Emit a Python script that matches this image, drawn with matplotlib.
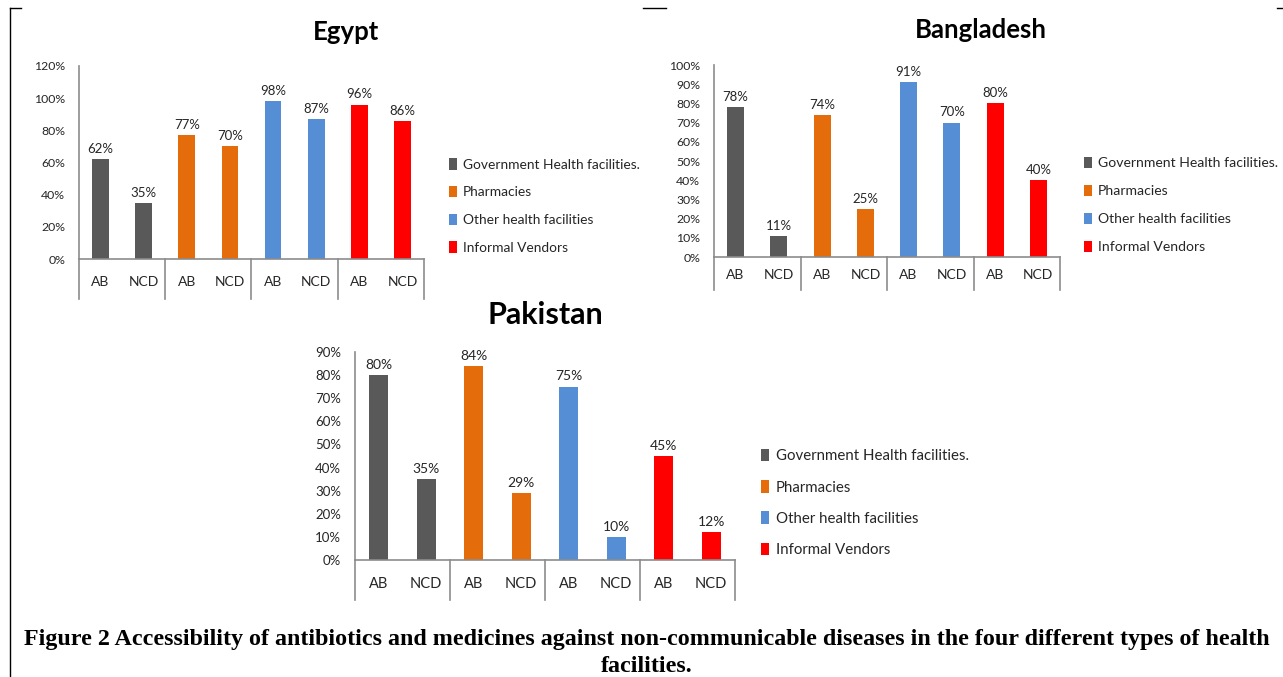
import matplotlib
matplotlib.use("Agg")
import matplotlib.pyplot as plt
from matplotlib.patches import Patch
from matplotlib.lines import Line2D
import matplotlib.transforms as mtransforms

# ---- data ----
categories = ["AB", "NCD", "AB", "NCD", "AB", "NCD", "AB", "NCD"]
facility_types = ["Government Health facilities.", "Pharmacies",
                  "Other health facilities", "Informal Vendors"]
egypt = [62, 35, 77, 70, 98, 87, 96, 86]
bangladesh = [78, 11, 74, 25, 91, 70, 80, 40]
pakistan = [80, 35, 84, 29, 75, 10, 45, 12]
egypt_ticks = [0, 20, 40, 60, 80, 100, 120]
bangladesh_ticks = [0, 10, 20, 30, 40, 50, 60, 70, 80, 90, 100]
pakistan_ticks = [0, 10, 20, 30, 40, 50, 60, 70, 80, 90]
caption1 = ("Figure 2 Accessibility of antibiotics and medicines against "
            "non-communicable diseases in the four different types of health")
caption2 = "facilities."

colors = ["#595959", "#E46C0A", "#558ED5", "#FF0000"]
bar_colors = [colors[i // 2] for i in range(8)]
axis_grey = "#8C8C8C"
FONT = ["Lato", "DejaVu Sans"]

W, H = 1283, 677
fig = plt.figure(figsize=(W / 100, H / 100), dpi=100)


def px_axes(l, r, t, b):
    return fig.add_axes([l / W, 1 - b / H, (r - l) / W, (b - t) / H])


def draw_panel(ax, values, ticks, title, title_xy, title_size, legend_xy,
               box_px, bar_w, tick_fs, lab_fs, leg_fs, leg_sp):
    x = list(range(len(values)))
    vals = [v / 100 for v in values]
    ax.bar(x, vals, width=bar_w, color=bar_colors, zorder=2)
    ax.set_xlim(-0.5, len(values) - 0.5)
    ax.set_ylim(0, ticks[-1] / 100)
    ax.set_yticks([t / 100 for t in ticks])
    ax.set_yticklabels([f"{t}%" for t in ticks], fontsize=tick_fs,
                       family=FONT, color="#262626")
    ax.set_xticks(x)
    ax.set_xticklabels(categories, fontsize=lab_fs, family=FONT, color="#262626")
    ax.tick_params(axis="both", length=0)
    ax.tick_params(axis="y", pad=10)
    ax.tick_params(axis="x", pad=box_px / 2 - 8)
    for s in ["top", "right"]:
        ax.spines[s].set_visible(False)
    for s in ["left", "bottom"]:
        ax.spines[s].set_color(axis_grey)
        ax.spines[s].set_linewidth(1.2)
    # category box separators
    h_px = ax.get_position().height * H
    trans = mtransforms.blended_transform_factory(ax.transData, ax.transAxes)
    for xs in [-0.5, 1.5, 3.5, 5.5, 7.5]:
        ax.add_line(Line2D([xs, xs], [0, -box_px / h_px], transform=trans,
                           color=axis_grey, lw=1.2, clip_on=False))
    for xi, v, raw in zip(x, vals, values):
        ax.annotate(f"{raw}%", (xi, v), xytext=(0, 3), textcoords="offset points",
                    ha="center", va="bottom", fontsize=lab_fs - 0.5,
                    family=FONT, color="#262626")
    fig.text(title_xy[0] / W, 1 - title_xy[1] / H, title, ha="center",
             va="center", fontsize=title_size, fontweight="bold", family=FONT)
    handles = [Patch(facecolor=c, edgecolor="none") for c in colors]
    fig.legend(handles, facility_types, loc="center left",
               bbox_to_anchor=(legend_xy[0] / W, 1 - legend_xy[1] / H),
               frameon=False, prop={"family": FONT, "size": leg_fs},
               handlelength=0.55, handleheight=0.9, handletextpad=0.45,
               labelspacing=leg_sp, borderpad=0, borderaxespad=0,
               labelcolor="#262626")


ax1 = px_axes(79, 424, 66, 259)
draw_panel(ax1, egypt, egypt_ticks, "Egypt", (346, 32), 18.5, (449, 206),
           40, 0.39, 8.8, 10, 9.9, 1.1)

ax2 = px_axes(714, 1060, 65, 257)
draw_panel(ax2, bangladesh, bangladesh_ticks, "Bangladesh", (981, 30), 18.5,
           (1084, 205), 33, 0.39, 8.8, 10, 10.05, 1.1)

ax3 = px_axes(355, 735, 352, 560)
draw_panel(ax3, pakistan, pakistan_ticks, "Pakistan", (545, 315), 22,
           (761, 503), 40, 0.4, 9.5, 10.5, 10.85, 1.12)

# caption
fig.text(646.5 / W, 1 - 640 / H, caption1, ha="center", va="center",
         fontsize=17.3, fontweight="bold", family=["Liberation Serif"])
fig.text(646.5 / W, 1 - 667 / H, caption2, ha="center", va="center",
         fontsize=17.3, fontweight="bold", family=["Liberation Serif"])

# document frame fragments
def fig_line(xs, ys):
    fig.add_artist(Line2D([v / W for v in xs], [1 - v / H for v in ys],
                          color="black", lw=1.0, transform=fig.transFigure))

fig_line([10, 10], [8, 677])
fig_line([10, 21], [8, 8])
fig_line([643, 666], [8, 8])
fig_line([1277, 1283], [8, 8])

fig.savefig("out.png", dpi=100, facecolor="white")
